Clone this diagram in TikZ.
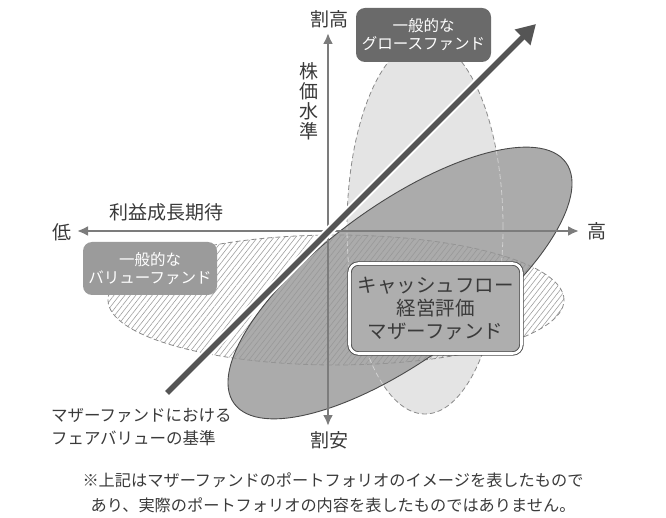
\documentclass[tikz,border=0pt]{standalone}
\usepackage{fontspec}
\newfontfamily\jp{Noto Sans CJK JP}
\usetikzlibrary{arrows.meta,patterns.meta}
\definecolor{txt}{HTML}{3A3A3A}
\definecolor{axisc}{HTML}{7C7C7C}
\definecolor{growthfill}{HTML}{E4E4E4}
\definecolor{dashc}{HTML}{8A8A8A}
\definecolor{cfell}{HTML}{ABABAB}
\definecolor{cfedge}{HTML}{4A4A4A}
\definecolor{linec}{HTML}{555555}
\definecolor{gbox}{HTML}{6A6A6A}
\definecolor{vbox}{HTML}{9B9B9B}
\definecolor{cbox}{HTML}{AEAEAE}
\tikzset{
  lbl/.style={text=txt, font=\jp\fontsize{19}{21}\selectfont, inner sep=0pt},
  fundbox/.style={rounded corners=9pt, text=white, align=center, inner sep=0pt,
    font=\jp\fontsize{15.5}{18}\selectfont},
  axisline/.style={draw=axisc, line width=2.2pt, {Latex[length=11pt,width=10pt]}-{Latex[length=11pt,width=10pt]}},
  dashline/.style={dashed, line width=0.8pt, dash pattern=on 5pt off 3pt},
  hatch/.style={pattern={Lines[angle=52,distance=4.3pt,line width=0.6pt]}},
}
\begin{document}
\begin{tikzpicture}[x=1pt,y=-1pt]
\useasboundingbox (0,0) rectangle (666,518);
% growth ellipse
\fill[growthfill] (425,227) ellipse [x radius=78pt, y radius=187pt];
% value (hatched) ellipse
\fill[hatch, pattern color=gray!75] (336,300) ellipse [x radius=228pt, y radius=65pt];
% outlines of growth and value
\draw[dashc, dashline] (425,227) ellipse [x radius=78pt, y radius=187pt];
\draw[dashc, dashline] (336,300) ellipse [x radius=228pt, y radius=65pt];
% cash flow ellipse
\fill[cfell] (400,283) ellipse [x radius=205pt, y radius=77.5pt, rotate=36];
\begin{scope}
  \clip (400,283) ellipse [x radius=205pt, y radius=77.5pt, rotate=36];
  \fill[hatch, pattern color=black!40] (336,300) ellipse [x radius=228pt, y radius=65pt];
  \draw[black!42, dashline] (336,300) ellipse [x radius=228pt, y radius=65pt];
  \draw[black!18, dashline] (425,227) ellipse [x radius=78pt, y radius=187pt];
\end{scope}
\draw[cfedge, line width=0.9pt] (400,283) ellipse [x radius=205pt, y radius=77.5pt, rotate=36];
% axes
\coordinate (vtop) at (328,33);
\coordinate (vbot) at (328,426);
\coordinate (hleft) at (77,231);
\coordinate (hright) at (579,231);
\draw[axisline] (vbot) -- (vtop);
\draw[axisline] (hleft) -- (hright);
% fair value line
\coordinate (fvs) at (167,393);
\coordinate (fve) at (536,24);
\draw[white, line width=9.5pt, shorten >=16pt] (fvs) -- (fve);
\draw[linec, line width=5.5pt, -{Triangle[length=19pt,width=21pt]}] (fvs) -- (fve);
% labels
\node[lbl] (wh) at (329,19) {割高};
\node[lbl] (wa) at (329,440) {割安};
\node[lbl] (lo) at (62,232) {低};
\node[lbl] (hi) at (597,231) {高};
\node[lbl] (rieki) at (166,212) {利益成長期待};
\node[lbl, align=center, font=\jp\fontsize{19}{20}\selectfont] (kabuka) at (309,101) {株\\価\\水\\準};
% boxes
\node[fundbox, fill=gbox, minimum width=135pt, minimum height=54pt] (gf) at (423.5,35) {一般的な\\グロースファンド};
\node[fundbox, fill=vbox, minimum width=134pt, minimum height=53pt] (vf) at (150,268.5) {一般的な\\バリューファンド};
\node[rounded corners=9pt, draw=cfedge, line width=0.9pt, double=white, double distance=2.6pt, fill=cbox,
  minimum width=172pt, minimum height=90pt, align=center, text=txt, inner sep=0pt,
  font=\jp\fontsize{19.5}{23}\selectfont] (cf) at (435.5,308.5) {キャッシュフロー\\経営評価\\マザーファンド};
\node[lbl, anchor=west, align=left, font=\jp\fontsize{16.5}{23}\selectfont] (fvl) at (51,427) {マザーファンドにおける\\フェアバリューの基準};
\node[lbl, align=center, font=\jp\fontsize{16.2}{25}\selectfont] (note) at (333,493) {※上記はマザーファンドのポートフォリオのイメージを表したもので\\あり、実際のポートフォリオの内容を表したものではありません。};
\end{tikzpicture}
\end{document}
